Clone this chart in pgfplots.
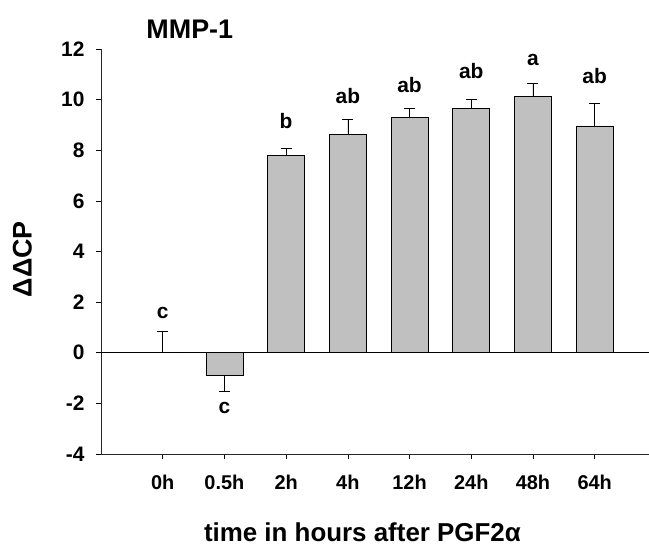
\documentclass[border=0pt]{standalone}
\usepackage{pgfplots}
\pgfplotsset{compat=1.18}
\usepackage{fontspec}
\setmainfont{Liberation Sans}
\definecolor{barfill}{HTML}{C0C0C0}
\begin{document}
\begin{tikzpicture}
\path[use as bounding box] (-101bp,-96bp) rectangle (548bp,454bp);
\begin{axis}[
  at={(0,0)}, anchor=south west,
  scale only axis, width=548bp, height=405bp,
  xmin=-1, xmax=7.88, ymin=-4, ymax=12,
  axis x line*=bottom, axis y line*=left,
  axis line style={-, line width=0.7pt, black!85},
  xtick={0,...,7},
  xticklabels={0h,0.5h,2h,4h,12h,24h,48h,64h},
  ytick={-4,-2,...,12},
  tick align=outside, major tick length=5bp,
  tick style={black, line width=0.6pt},
  xticklabel style={font=\fontsize{20}{22}\selectfont\bfseries, anchor=north, yshift=-13bp},
  yticklabel style={font=\fontsize{21}{23}\selectfont\bfseries, anchor=east, xshift=-8bp},
  /pgf/number format/assume math mode=true,
  title={MMP-1},
  title style={font=\fontsize{27}{30}\selectfont\bfseries, at={(rel axis cs:0.162,1.0487)}, anchor=center, yshift=-6pt},
  xlabel={time in hours after PGF2α},
  xlabel style={font=\fontsize{26}{28}\selectfont\bfseries, at={(rel axis cs:0.477,-0.193)}, anchor=center},
  ylabel={ΔΔCP},
  ylabel style={font=\fontsize{27}{29}\selectfont\bfseries, at={(rel axis cs:-0.1435,0.481)}, anchor=center},
  clip=false,
  error bars/error bar style={black, line width=0.7pt},
  error bars/error mark options={black, line width=0.7pt, mark size=5.5bp, rotate=90},
]
\draw[black, line width=0.7pt] (axis cs:-1,0) -- (axis cs:7.88,0);
\addplot[ybar, bar width=0.6, bar shift=0pt, fill=barfill, draw=black, line width=0.7pt,
  error bars/.cd, y dir=plus, y explicit]
  coordinates {
    (0,0) += (0,0.86)
    (2,7.78) += (0,0.31)
    (3,8.61) += (0,0.63)
    (4,9.29) += (0,0.38)
    (5,9.66) += (0,0.35)
    (6,10.11) += (0,0.52)
    (7,8.96) += (0,0.91)
  };
\addplot[ybar, bar width=0.6, bar shift=0pt, fill=barfill, draw=black, line width=0.7pt,
  error bars/.cd, y dir=minus, y explicit]
  coordinates {
    (1,-0.89) -= (0,0.64)
  };
\begin{scope}[every node/.style={font=\fontsize{21}{23}\selectfont\bfseries}]
\node at (axis cs:0,1.56) {c};
\node at (axis cs:1,-2.19) {c};
\node at (axis cs:2,9.14) {b};
\node at (axis cs:3,10.13) {ab};
\node at (axis cs:4,10.59) {ab};
\node at (axis cs:5,11.12) {ab};
\node at (axis cs:6,11.58) {a};
\node at (axis cs:7,10.92) {ab};
\end{scope}
\end{axis}
\end{tikzpicture}
\end{document}
